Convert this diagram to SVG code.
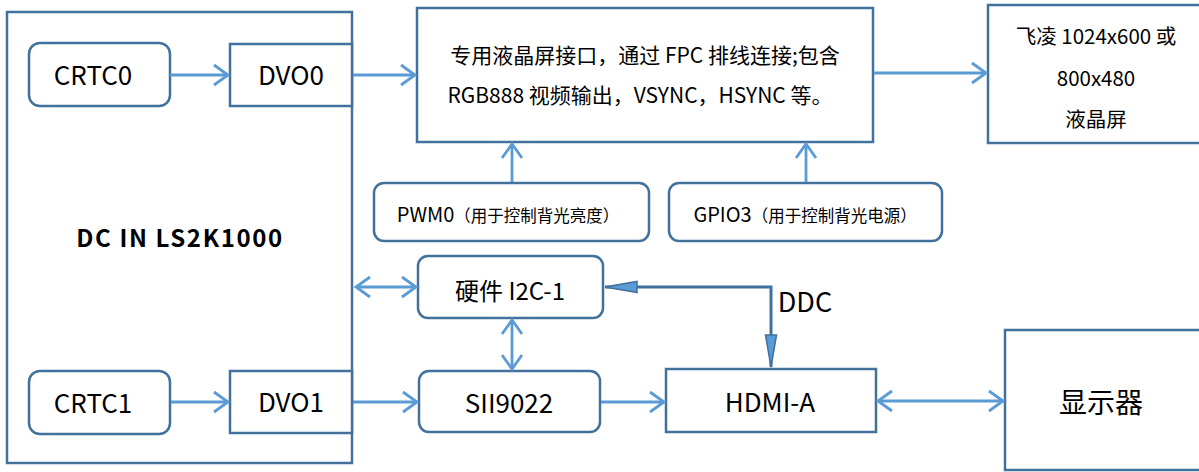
<svg xmlns="http://www.w3.org/2000/svg" width="1199" height="472" viewBox="0 0 1199 472">
<style>
.box{fill:#fff;stroke:#41719c;stroke-width:2.5}
.t{font-family:"Noto Sans CJK SC","Noto Sans",sans-serif;fill:#000;text-anchor:middle}
.ln{fill:none;stroke:#5b9bd5;stroke-width:2.8}
.dl{fill:none;stroke:#41719c;stroke-width:3}
</style>
<defs>
<marker id="a" markerUnits="userSpaceOnUse" markerWidth="20" markerHeight="24" viewBox="-16 -12 20 24" refX="0" refY="0" orient="auto-start-reverse">
<path d="M-14,-10 L0,0 L-14,10" fill="none" stroke="#5b9bd5" stroke-width="2.8"/>
</marker>
<marker id="f" markerUnits="userSpaceOnUse" markerWidth="36" markerHeight="14" viewBox="-34 -7 36 14" refX="0" refY="0" orient="auto-start-reverse">
<path d="M-32,-5.5 L0,0 L-32,5.5 Z" fill="#5b9bd5" stroke="#41719c" stroke-width="1.5"/>
</marker>
</defs>
<g id="dc">
<rect class="box" x="7" y="12" width="345" height="451"/>
<text class="t" x="180" y="247" font-size="24" font-weight="bold" letter-spacing="1.6">DC IN LS2K1000</text>
</g>
<g id="crtc0">
<rect class="box" x="29" y="43" width="141" height="63" rx="11"/>
<text class="t" x="93" y="85" font-size="26">CRTC0</text>
</g>
<g id="dvo0">
<rect class="box" x="230" y="44" width="122" height="62"/>
<text class="t" x="291" y="85" font-size="26">DVO0</text>
</g>
<g id="crtc1">
<rect class="box" x="29" y="371" width="141" height="63" rx="11"/>
<text class="t" x="93" y="413" font-size="26">CRTC1</text>
</g>
<g id="dvo1">
<rect class="box" x="230" y="371" width="122" height="62"/>
<text class="t" x="291" y="412" font-size="26">DVO1</text>
</g>
<g id="lcdif">
<rect class="box" x="417" y="8" width="456" height="134"/>
<text class="t" x="645" y="63" font-size="21">专用液晶屏接口，通过 FPC 排线连接;包含</text>
<text class="t" x="640" y="103" font-size="21">RGB888 视频输出，VSYNC，HSYNC 等。</text>
</g>
<g id="panel">
<rect class="box" x="988" y="5" width="220" height="138"/>
<text class="t" x="1096" y="44" font-size="20.5">飞凌 1024x600 或</text>
<text class="t" x="1096" y="86" font-size="20.5">800x480</text>
<text class="t" x="1096" y="127" font-size="20.5">液晶屏</text>
</g>
<g id="pwm0">
<rect class="box" x="374" y="183" width="275" height="58" rx="10"/>
<text class="t" x="508" y="222"><tspan font-size="20">PWM0</tspan><tspan font-size="16.5">（用于控制背光亮度）</tspan></text>
</g>
<g id="gpio3">
<rect class="box" x="669" y="183" width="273" height="58" rx="10"/>
<text class="t" x="805" y="222"><tspan font-size="20">GPIO3</tspan><tspan font-size="16.5">（用于控制背光电源）</tspan></text>
</g>
<g id="i2c">
<rect class="box" x="418" y="256" width="185" height="62" rx="10"/>
<text class="t" x="510" y="300" font-size="24">硬件 I2C-1</text>
</g>
<g id="sii9022">
<rect class="box" x="419" y="371" width="181" height="61" rx="10"/>
<text class="t" x="509" y="413" font-size="26">SII9022</text>
</g>
<g id="hdmi">
<rect class="box" x="666" y="369" width="210" height="63"/>
<text class="t" x="770" y="412" font-size="26">HDMI-A</text>
</g>
<g id="monitor">
<rect class="box" x="1005" y="330" width="210" height="140"/>
<text class="t" x="1101" y="413" font-size="28">显示器</text>
</g>
<g id="connectors">
<line class="ln" x1="170" y1="75" x2="228" y2="75" marker-end="url(#a)"/>
<line class="ln" x1="353" y1="75" x2="415" y2="75" marker-end="url(#a)"/>
<line class="ln" x1="874" y1="73" x2="986" y2="73" marker-end="url(#a)"/>
<line class="ln" x1="512" y1="182" x2="512" y2="144" marker-end="url(#a)"/>
<line class="ln" x1="806" y1="182" x2="806" y2="144" marker-end="url(#a)"/>
<line class="ln" x1="356" y1="287" x2="416" y2="287" marker-start="url(#a)" marker-end="url(#a)"/>
<line class="ln" x1="512" y1="320" x2="512" y2="369" marker-start="url(#a)" marker-end="url(#a)"/>
<polyline class="dl" points="605,287 771,287 771,367" marker-start="url(#f)" marker-end="url(#f)"/>
<line class="ln" x1="171" y1="402" x2="228" y2="402" marker-end="url(#a)"/>
<line class="ln" x1="353" y1="402" x2="417" y2="402" marker-end="url(#a)"/>
<line class="ln" x1="601" y1="402" x2="664" y2="402" marker-end="url(#a)"/>
<line class="ln" x1="878" y1="401" x2="1003" y2="401" marker-start="url(#a)" marker-end="url(#a)"/>
<text class="t" x="805" y="312" font-size="27">DDC</text>
</g>
</svg>
